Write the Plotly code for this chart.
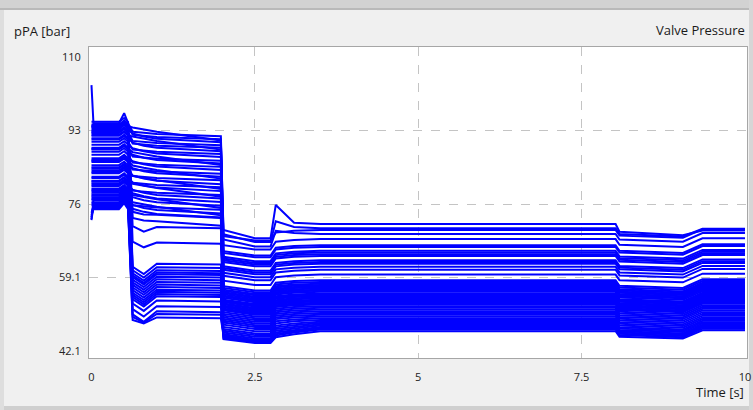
import plotly.graph_objects as go

# ---- data ----
knot_times = [0, 0.03, 0.42, 0.5, 0.56, 0.63, 0.8, 1.0, 1.98, 2.02, 2.5, 2.74, 2.82, 3.1, 3.5, 8.02, 8.08, 9.05, 9.35, 10]

p_t0 = [93.2, 103.5, 91.2, 92.6, 89.7, 94.1, 88.1, 90.4, 86.6, 92.4, 85.0, 89.0, 83.1, 87.4, 82.0, 85.7, 80.2, 84.5, 78.6, 82.3, 72.3, 80.8, 79.6, 77.6, 73.0,
        95.0, 93.8, 94.4, 92.9, 93.5, 91.8, 90.9, 88.6, 86.2, 84.2, 83.8, 81.4, 80.5, 79.0, 78.2, 77.2, 76.4, 74.0, 72.5, 73.5, 76.1, 77.9, 75.7,
        94.0, 92.0, 88.8, 86.0, 83.4, 81.2, 79.3, 77.0]
p_a = [93.2, 94.7, 91.2, 92.6, 89.7, 94.1, 88.1, 90.4, 86.6, 92.4, 85.0, 89.0, 83.1, 87.4, 82.0, 85.7, 80.2, 84.5, 78.6, 82.3, 76.9, 80.8, 79.6, 77.6, 76.0,
       95.0, 93.8, 94.4, 92.9, 93.5, 91.8, 90.9, 88.6, 86.2, 84.2, 83.8, 81.4, 80.5, 79.0, 78.2, 77.2, 76.4, 75.4, 75.1, 74.8, 76.1, 77.9, 75.7,
       94.0, 92.0, 88.8, 86.0, 83.4, 81.2, 79.3, 77.0]
p_pk = [94.3, 97.0, 92.0, 93.6, 90.5, 95.2, 88.9, 91.2, 87.4, 93.4, 85.8, 89.8, 83.9, 88.2, 82.8, 86.5, 81.0, 85.3, 79.6, 83.1, 78.2, 81.6, 80.4, 78.8, 77.4,
        95.9, 94.6, 95.3, 93.7, 94.4, 92.6, 91.7, 89.4, 87.0, 85.0, 84.6, 82.2, 81.3, 79.8, 79.4, 78.5, 77.8, 76.9, 76.6, 76.2, 77.4, 79.1, 77.1,
        94.9, 92.9, 89.7, 86.9, 84.3, 82.1, 80.2, 77.9]
p_b0 = [92.3, 92.7, 90.2, 90.6, 88.9, 92.0, 87.4, 88.6, 85.9, 90.0, 84.3, 87.0, 82.6, 85.6, 81.0, 84.0, 79.3, 82.5, 77.6, 80.9, 75.8, 79.1, 78.5, 75.7, 74.9,
        70.9, 74.2, 67.3, 72.8, 61.5, 60.7, 60.0, 59.1, 58.5, 57.9, 57.3, 56.7, 56.1, 55.0, 54.5, 54.0, 51.7, 50.5, 49.9, 49.2, 53.0, 55.5, 59.5,
        93.7, 91.6, 88.0, 84.9, 82.5, 80.7, 78.1, 76.4]
p_bu = [91.6, 92.5, 89.5, 90.4, 88.2, 91.8, 86.7, 88.4, 85.2, 89.8, 83.6, 86.8, 81.9, 85.4, 80.3, 83.8, 78.6, 82.3, 76.9, 80.7, 75.1, 78.9, 77.8, 75.5, 74.2,
        69.6, 73.6, 66.0, 72.2, 59.8, 59.0, 58.3, 57.4, 56.8, 56.2, 55.6, 55.0, 54.4, 53.3, 52.8, 52.3, 50.0, 48.8, 48.6, 48.4, 51.3, 53.8, 57.8,
        93.2, 91.1, 87.5, 84.4, 82.0, 80.2, 77.6, 75.9]
p_b1 = [91.1, 92.2, 89.0, 90.1, 87.7, 91.5, 86.2, 88.1, 84.7, 89.5, 83.1, 86.5, 81.4, 85.1, 79.8, 83.5, 78.1, 82.0, 76.4, 80.4, 74.6, 78.6, 77.3, 75.2, 73.7,
        70.7, 73.5, 67.1, 72.0, 62.2, 61.4, 60.7, 59.8, 59.2, 58.6, 58.0, 57.4, 56.8, 55.7, 55.2, 54.7, 52.4, 51.2, 50.6, 49.8, 53.7, 56.2, 60.2,
        92.7, 90.6, 87.0, 83.9, 81.5, 79.7, 77.1, 75.4]
p_b2 = [90.3, 91.7, 88.2, 89.6, 86.9, 91.0, 85.4, 87.6, 83.9, 89.0, 82.3, 86.0, 80.6, 84.6, 79.0, 83.0, 77.3, 81.5, 75.6, 79.9, 73.8, 78.1, 76.5, 74.7, 72.9,
        70.4, 72.8, 66.8, 71.0, 62.0, 61.2, 60.5, 59.6, 59.0, 58.4, 57.8, 57.2, 56.6, 55.5, 55.0, 54.5, 52.2, 51.0, 50.4, 49.6, 53.5, 56.0, 60.0,
        90.7, 88.6, 85.0, 81.9, 79.5, 77.7, 75.1, 73.4]
p_c0 = [70.0, 69.0, 68.6, 67.8, 66.5, 65.1, 64.7, 63.4, 63.0, 62.6, 61.6, 61.2, 60.8, 59.4, 58.3, 57.0, 55.6, 55.1, 54.6, 53.9, 53.5, 53.0, 52.5, 52.1, 51.6,
        53.7, 53.3, 52.8, 52.3, 51.8, 51.4, 51.0, 50.6, 50.2, 49.8, 49.4, 49.0, 48.6, 48.1, 47.6, 47.1, 46.7, 46.3, 45.9, 45.6, 45.3, 45.0, 44.8,
        56.6, 56.2, 55.9, 55.4, 54.8, 54.3, 60.1, 63.8]
p_cd = [68.1, 67.2, 67.6, 66.2, 65.5, 64.1, 63.7, 62.4, 62.0, 61.6, 60.6, 60.2, 59.8, 58.4, 57.3, 56.0, 54.6, 54.1, 53.6, 52.9, 52.5, 52.0, 51.5, 51.1, 50.6,
        52.7, 52.3, 51.8, 51.3, 50.8, 50.4, 50.0, 49.6, 49.2, 48.8, 48.4, 48.0, 47.6, 47.1, 46.6, 46.1, 45.7, 45.3, 44.9, 44.6, 44.3, 44.1, 43.9,
        55.6, 55.2, 54.9, 54.4, 53.8, 53.3, 59.1, 62.8]
p_cp = [75.8, 72.0, 69.4, 69.8, 67.3, 65.9, 65.5, 64.2, 63.8, 63.4, 62.4, 62.0, 61.6, 60.2, 59.1, 57.8, 56.4, 55.9, 55.4, 54.7, 54.3, 53.8, 53.3, 52.9, 52.4,
        54.5, 54.1, 53.6, 53.1, 52.6, 52.2, 51.8, 51.4, 51.0, 50.6, 50.2, 49.8, 49.4, 48.9, 48.4, 47.9, 47.5, 47.1, 46.7, 46.3, 45.9, 45.6, 45.2,
        57.4, 57.0, 56.7, 56.2, 55.6, 55.1, 60.9, 64.6]
p_cs = [71.7, 70.7, 69.8, 69.3, 67.7, 66.3, 65.9, 64.6, 64.2, 63.8, 62.8, 62.4, 62.0, 60.6, 59.5, 58.2, 56.8, 56.3, 55.8, 55.1, 54.7, 54.2, 53.7, 53.3, 52.8,
        54.9, 54.5, 54.0, 53.5, 53.0, 52.6, 52.2, 51.8, 51.4, 51.0, 50.6, 50.2, 49.8, 49.3, 48.9, 48.4, 48.0, 47.6, 47.2, 46.9, 46.6, 46.3, 45.9,
        57.8, 57.4, 57.1, 56.6, 56.0, 55.5, 61.3, 65.0]
p_c = [71.4, 70.4, 70.0, 69.1, 67.9, 66.5, 66.1, 64.8, 64.4, 64.0, 63.0, 62.6, 62.2, 60.8, 59.7, 58.4, 57.0, 56.5, 56.0, 55.3, 54.9, 54.4, 53.9, 53.5, 53.0,
       55.1, 54.7, 54.2, 53.7, 53.2, 52.8, 52.4, 52.0, 51.6, 51.2, 50.8, 50.4, 50.0, 49.6, 49.2, 48.8, 48.5, 48.2, 47.9, 47.6, 47.3, 47.0, 46.6,
       58.0, 57.6, 57.3, 56.8, 56.2, 55.7, 61.5, 65.2]
p_d0 = [69.6, 69.1, 68.7, 67.8, 66.6, 65.2, 64.8, 63.5, 63.1, 62.7, 61.7, 61.3, 60.9, 59.5, 58.4, 57.1, 55.7, 55.2, 54.7, 54.0, 53.6, 53.1, 52.6, 52.2, 51.7,
        53.8, 53.4, 52.9, 52.4, 51.9, 51.5, 51.1, 50.7, 50.3, 49.9, 49.5, 49.1, 48.7, 48.3, 47.9, 47.5, 47.2, 46.9, 46.6, 46.3, 46.0, 45.7, 45.3,
        56.7, 56.3, 56.0, 55.5, 54.9, 54.4, 60.2, 63.9]
p_d1 = [68.8, 68.5, 68.2, 67.3, 66.1, 64.7, 64.3, 63.0, 62.6, 62.2, 61.2, 60.8, 60.4, 59.0, 57.9, 56.6, 55.2, 54.7, 54.2, 53.5, 53.1, 52.6, 52.1, 51.7, 51.2,
        53.3, 52.9, 52.4, 51.9, 51.4, 51.0, 50.6, 50.2, 49.8, 49.4, 49.0, 48.6, 48.2, 47.8, 47.4, 47.0, 46.7, 46.4, 46.1, 45.8, 45.5, 45.2, 44.9,
        56.2, 55.8, 55.5, 55.0, 54.4, 53.9, 59.7, 63.4]
p_e = [69.9, 70.3, 70.2, 69.3, 68.1, 66.7, 66.3, 65.0, 64.6, 64.2, 63.2, 62.8, 62.4, 61.0, 59.9, 58.6, 57.2, 56.7, 56.2, 55.5, 55.1, 54.6, 54.1, 53.7, 53.2,
       55.3, 54.9, 54.4, 53.9, 53.4, 53.0, 52.6, 52.2, 51.8, 51.4, 51.0, 50.6, 50.2, 49.8, 49.4, 49.0, 48.7, 48.4, 48.1, 47.8, 47.5, 47.2, 46.8,
       58.2, 57.8, 57.5, 57.0, 56.4, 55.9, 61.7, 65.4]

# which level array applies at each knot time
knot_levels = [p_t0, p_a, p_a, p_pk, p_a, p_b0, p_bu, p_b1, p_b2, p_c0,
               p_cd, p_cd, p_cp, p_cs, p_c, p_c, p_d0, p_d1, p_e, p_e]

x_tickvals = [0, 2.5, 5, 7.5, 10]
x_ticktext = ["0", "2.5", "5", "7.5", "10"]
x_gridvals = [2.5, 5, 7.5]
y_tickvals = [42.1, 59.1, 76, 93, 110]
y_ticktext = ["42.1", "59.1", "76", "93", "110"]
y_gridvals = [59.1, 76, 93]

# ---- figure ----
W, H = 753, 410
ML, MR, MT, MB = 89, 6, 47, 52
fig = go.Figure()
for i in range(len(p_c)):
    fig.add_trace(go.Scatter(
        x=knot_times, y=[lvl[i] for lvl in knot_levels],
        mode="lines", line=dict(color="#0000ff", width=2.0),
        showlegend=False, hoverinfo="skip"))

FONT = "Open Sans, Noto Sans, sans-serif"
grid = dict(showgrid=True, griddash="dash", gridcolor="#c4c4c4", gridwidth=1, ticks="")

def px_x(p):
    return (p - ML) / (W - ML - MR)

def px_y(p):
    return 1 - (p - MT) / (H - MT - MB)

shapes = [
    dict(type="rect", xref="paper", yref="paper", x0=px_x(0), x1=px_x(W), y0=px_y(10), y1=px_y(0),
         fillcolor="#d2d2d2", line_width=0, layer="below"),
    dict(type="rect", xref="paper", yref="paper", x0=px_x(0), x1=px_x(W), y0=px_y(10), y1=px_y(8),
         fillcolor="#b9b9b9", line_width=0, layer="below"),
    dict(type="rect", xref="paper", yref="paper", x0=px_x(0), x1=px_x(W), y0=px_y(H), y1=px_y(406),
         fillcolor="#cfcfcf", line_width=0, layer="below"),
    dict(type="rect", xref="paper", yref="paper", x0=px_x(0), x1=px_x(4), y0=px_y(H), y1=px_y(10),
         fillcolor="#dedede", line_width=0, layer="below"),
    dict(type="rect", xref="paper", yref="paper", x0=px_x(749), x1=px_x(W), y0=px_y(H), y1=px_y(0),
         fillcolor="#d6d6d6", line_width=0, layer="below"),
]

fig.update_layout(
    width=W, height=H,
    margin=dict(l=ML, r=MR, t=MT, b=MB, pad=0, autoexpand=False),
    paper_bgcolor="#f0f0f0", plot_bgcolor="#ffffff",
    font=dict(family=FONT, size=11, color="#222222"),
    showlegend=False,
    shapes=shapes,
    xaxis=dict(range=[-0.038, 10.031], tickmode="array", tickvals=x_tickvals, ticktext=x_ticktext,
               showgrid=False, zeroline=False, ticks="", ticklabelstandoff=9, ticklabeloverflow="allow",
               automargin=False,
               showline=True, mirror=True, linecolor="#a6a6a6", linewidth=1,
               minor=dict(tickmode="array", tickvals=x_gridvals, **grid)),
    yaxis=dict(range=[40.41, 112.31], tickmode="array", tickvals=y_tickvals, ticktext=y_ticktext,
               showgrid=False, zeroline=False, ticks="", ticklabelstandoff=5, automargin=False,
               showline=True, mirror=True, linecolor="#a6a6a6", linewidth=1,
               minor=dict(tickmode="array", tickvals=y_gridvals, **grid)),
    annotations=[
        dict(text="pPA [bar]", xref="paper", yref="paper", x=px_x(12), y=px_y(31),
             xanchor="left", yanchor="middle", showarrow=False,
             font=dict(family=FONT, size=13, color="#1a1a1a")),
        dict(text="Valve Pressure", xref="paper", yref="paper", x=px_x(747), y=px_y(30),
             xanchor="right", yanchor="middle", showarrow=False,
             font=dict(family=FONT, size=13, color="#1a1a1a")),
        dict(text="Time [s]", xref="paper", yref="paper", x=px_x(746), y=px_y(392),
             xanchor="right", yanchor="middle", showarrow=False,
             font=dict(family=FONT, size=13, color="#1a1a1a")),
    ],
)

fig.write_html("out.html", config={"displayModeBar": False},
               post_script="document.body.style.margin='0';document.body.style.overflow='hidden';")
